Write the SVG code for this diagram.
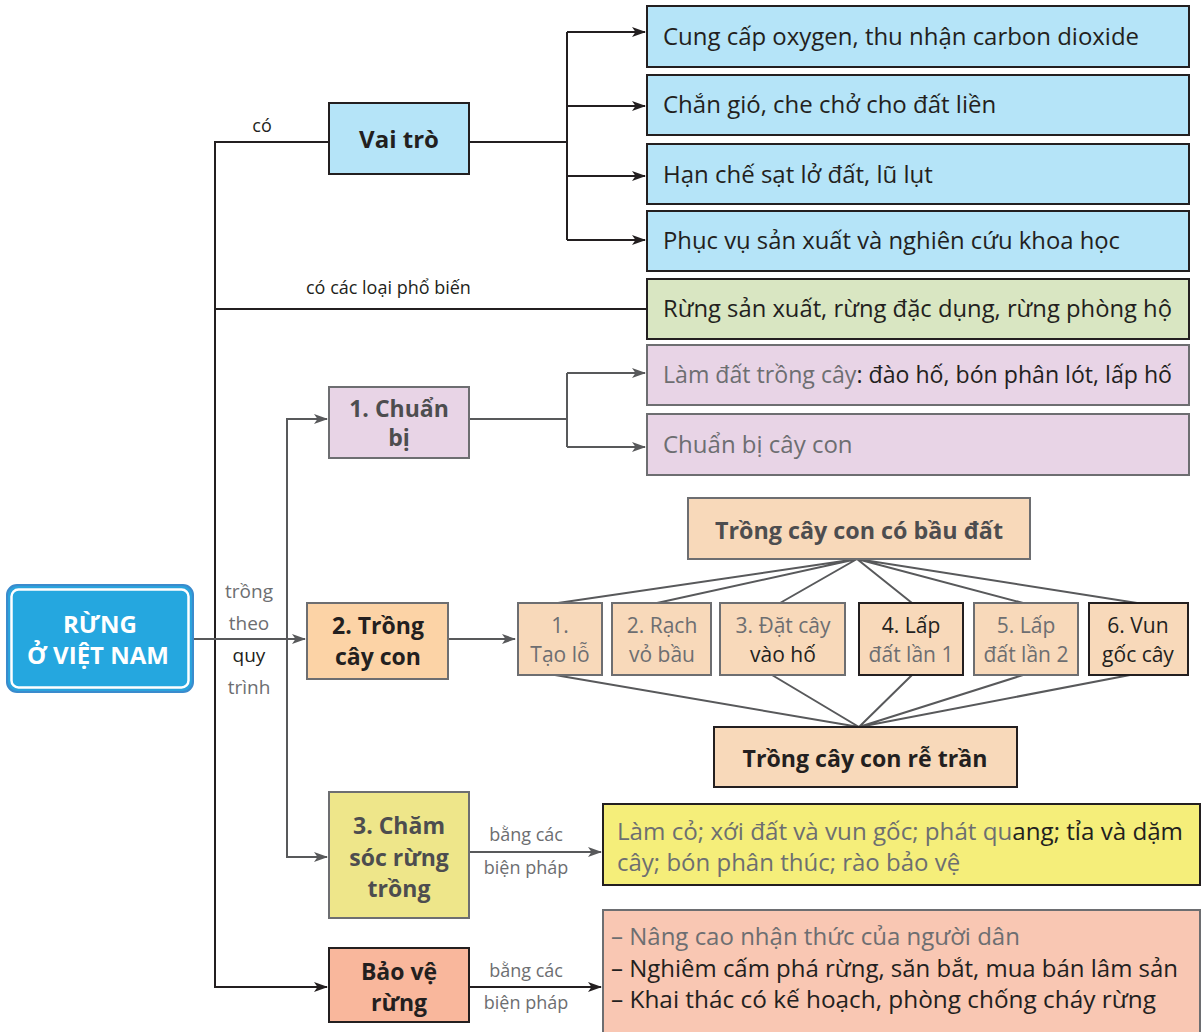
<svg xmlns="http://www.w3.org/2000/svg" width="1202" height="1032" viewBox="0 0 1202 1032">
<defs>
<marker id="ah" markerWidth="14" markerHeight="12" refX="13" refY="6" orient="auto" markerUnits="userSpaceOnUse">
<path d="M0,1 L14,6 L0,11 L3.5,6 z" fill="#231f20"/>
</marker>
<marker id="ahg" markerWidth="14" markerHeight="12" refX="13" refY="6" orient="auto" markerUnits="userSpaceOnUse">
<path d="M0,1 L14,6 L0,11 L3.5,6 z" fill="#58595b"/>
</marker>
</defs>
<style>
text{font-family:"Open Sans","Noto Sans","DejaVu Sans",sans-serif;fill:#231f20}
.b{font-weight:700}
.c{text-anchor:middle}
.t24{font-size:24px}
.t23{font-size:23px}
.t21{font-size:21px}
.t19{font-size:19px}
.t18{font-size:18px}
.g{fill:#6d6e71}
.dg{fill:#4d4d4f}
.bx{stroke:#231f20;stroke-width:2}
.bg{stroke:#6d6e71;stroke-width:2}
.blue{fill:#b5e4f8}
.green{fill:#d9e6c2}
.purple{fill:#e8d4e6}
.peach{fill:#f8d9ba}
.orange{fill:#fcd3a6}
.yel1{fill:#eee68a}
.yel2{fill:#f5ee7a}
.sal1{fill:#f9b79c}
.sal2{fill:#f9c7b3}
.ln{fill:none;stroke:#231f20;stroke-width:2}
.lg{fill:none;stroke:#58595b;stroke-width:2}
</style>
<rect width="1202" height="1032" fill="#ffffff"/>

<g id="connectors">
<path class="ln" d="M329,142 H215 V987 H327" marker-end="url(#ah)"/>
<path class="ln" d="M215,309 H647"/>
<path class="ln" d="M469,142 H567 M567,32 V240"/>
<path class="ln" d="M567,32 H645" marker-end="url(#ah)"/>
<path class="ln" d="M567,106 H645" marker-end="url(#ah)"/>
<path class="ln" d="M567,176 H645" marker-end="url(#ah)"/>
<path class="ln" d="M567,240 H645" marker-end="url(#ah)"/>
<path class="lg" d="M327,419 H287 V857 H327" marker-end="url(#ahg)"/>
<path class="lg" d="M287,419 H327" marker-end="url(#ahg)"/>
<path class="lg" d="M194,639 H305" marker-end="url(#ahg)"/>
<path class="lg" d="M469,419 H567 M567,373 V447"/>
<path class="lg" d="M567,373 H645" marker-end="url(#ahg)"/>
<path class="lg" d="M567,447 H645" marker-end="url(#ahg)"/>
<path class="lg" d="M448,639 H515" marker-end="url(#ahg)"/>
<path class="lg" d="M857,559 L558,603 M857,559 L657,603 M857,559 L780,603 M857,559 L912,603 M857,559 L1023,603 M857,559 L1137,603"/>
<path class="lg" d="M859,727 L555,675 M859,727 L772,675 M859,727 L912,675 M859,727 L1023,675 M859,727 L1130,675"/>
<path class="lg" d="M469,852 H601" marker-end="url(#ahg)"/>
<path class="ln" d="M469,987 H601" marker-end="url(#ah)"/>
</g>

<g id="labels">
<text class="t18 c" x="262" y="132">có</text>
<text class="t18" x="306" y="294">có các loại phổ biến</text>
<text class="t19 c g" x="249" y="598">trồng</text>
<text class="t19 c g" x="249" y="630">theo</text>
<text class="t19 c" x="249" y="662">quy</text>
<text class="t19 c g" x="249" y="694">trình</text>
<text class="t18 c g" x="526" y="841">bằng các</text>
<text class="t18 c g" x="526" y="874">biện pháp</text>
<text class="t18 c g" x="526" y="977">bằng các</text>
<text class="t18 c g" x="526" y="1009">biện pháp</text>
</g>

<g id="main">
<rect x="7" y="585" width="186" height="107" rx="10" fill="#2aa3dc" stroke="#3a8bcd" stroke-width="2"/>
<rect x="11.5" y="589.5" width="177" height="98" rx="7" fill="#25a7df" stroke="#ffffff" stroke-width="2.5"/>
<text class="b t24 c" x="100" y="633" style="fill:#ffffff">RỪNG</text>
<text class="b t24 c" x="98" y="664" style="fill:#ffffff">Ở VIỆT NAM</text>
</g>

<g id="vaitro">
<rect class="blue bx" x="329" y="103" width="140" height="71"/>
<text class="b t24 c" x="399" y="148">Vai trò</text>
</g>
<g id="vt1">
<rect class="blue bx" x="647" y="6" width="542" height="61"/>
<text class="t24" x="663" y="45" textLength="476" lengthAdjust="spacingAndGlyphs">Cung cấp oxygen, thu nhận carbon dioxide</text>
</g>
<g id="vt2">
<rect class="blue bx" x="647" y="75" width="542" height="60"/>
<text class="t24" x="663" y="113">Chắn gió, che chở cho đất liền</text>
</g>
<g id="vt3">
<rect class="blue bx" x="647" y="144" width="542" height="60"/>
<text class="t24" x="663" y="183">Hạn chế sạt lở đất, lũ lụt</text>
</g>
<g id="vt4">
<rect class="blue bx" x="647" y="211" width="542" height="60"/>
<text class="t24" x="663" y="249" textLength="457" lengthAdjust="spacingAndGlyphs">Phục vụ sản xuất và nghiên cứu khoa học</text>
</g>
<g id="loai">
<rect class="green bx" x="647" y="279" width="542" height="60"/>
<text class="t24" x="663" y="317" textLength="509" lengthAdjust="spacingAndGlyphs">Rừng sản xuất, rừng đặc dụng, rừng phòng hộ</text>
</g>

<g id="chuanbi">
<rect class="purple bg" x="329" y="387" width="140" height="71"/>
<text class="b t23 c dg" x="399" y="417">1. Chuẩn</text>
<text class="b t23 c dg" x="399" y="446">bị</text>
</g>
<g id="cb1">
<rect class="purple bg" x="647" y="345" width="542" height="60"/>
<text class="t24" x="663" y="383" textLength="509" lengthAdjust="spacingAndGlyphs"><tspan class="g">Làm đất trồng cây</tspan>: đào hố, bón phân lót, lấp hố</text>
</g>
<g id="cb2">
<rect class="purple bg" x="647" y="414" width="542" height="61"/>
<text class="t24 g" x="663" y="453">Chuẩn bị cây con</text>
</g>

<g id="trong">
<rect class="orange bg" x="307" y="603" width="141" height="76"/>
<text class="b t23 c" x="378" y="634">2. Trồng</text>
<text class="b t23 c" x="378" y="665">cây con</text>
</g>
<g id="baudat">
<rect class="peach bg" x="688" y="498" width="342" height="61"/>
<text class="b t24 c dg" x="859" y="539" textLength="288" lengthAdjust="spacingAndGlyphs">Trồng cây con có bầu đất</text>
</g>
<g id="s1">
<rect class="peach bg" x="518" y="603" width="84" height="72"/>
<text class="t21 c g" x="560" y="633">1.</text>
<text class="t21 c g" x="560" y="662">Tạo lỗ</text>
</g>
<g id="s2">
<rect class="peach bg" x="612" y="603" width="99" height="72"/>
<text class="t21 c g" x="662" y="633">2. Rạch</text>
<text class="t21 c g" x="662" y="662">vỏ bầu</text>
</g>
<g id="s3">
<rect class="peach bg" x="720" y="603" width="125" height="72"/>
<text class="t21 c g" x="783" y="633">3. Đặt cây</text>
<text class="t21 c" x="783" y="662">vào hố</text>
</g>
<g id="s4">
<rect class="peach bx" x="859" y="603" width="104" height="72"/>
<text class="t21 c" x="911" y="633">4. Lấp</text>
<text class="t21 c g" x="911" y="662">đất lần 1</text>
</g>
<g id="s5">
<rect class="peach bg" x="974" y="603" width="104" height="72"/>
<text class="t21 c g" x="1026" y="633">5. Lấp</text>
<text class="t21 c g" x="1026" y="662">đất lần 2</text>
</g>
<g id="s6">
<rect class="peach bx" x="1089" y="603" width="99" height="72"/>
<text class="t21 c" x="1138" y="633">6. Vun</text>
<text class="t21 c" x="1138" y="662">gốc cây</text>
</g>
<g id="retran">
<rect class="peach bx" x="714" y="727" width="303" height="60"/>
<text class="b t24 c" x="865" y="767" textLength="245" lengthAdjust="spacingAndGlyphs">Trồng cây con rễ trần</text>
</g>

<g id="chamsoc">
<rect class="yel1 bg" x="329" y="792" width="140" height="126"/>
<text class="b t23 c dg" x="399" y="834">3. Chăm</text>
<text class="b t23 c dg" x="399" y="866">sóc rừng</text>
<text class="b t23 c dg" x="399" y="897">trồng</text>
</g>
<g id="cs1">
<rect class="yel2 bx" x="603" y="804" width="597" height="81"/>
<text class="t24" x="617" y="840" textLength="566" lengthAdjust="spacingAndGlyphs"><tspan class="g">Làm cỏ; xới đất và vun gốc; phát qu</tspan>ang; tỉa và dặm</text>
<text class="t24 g" x="617" y="871">cây; bón phân thúc; rào bảo vệ</text>
</g>

<g id="baove">
<rect class="sal1 bx" x="329" y="948" width="140" height="74"/>
<text class="b t23 c" x="399" y="980">Bảo vệ</text>
<text class="b t23 c" x="399" y="1011">rừng</text>
</g>
<g id="bv1">
<rect class="sal2 bg" x="603" y="910" width="597" height="124"/>
<text class="t24 g" x="611" y="945">– Nâng cao nhận thức của người dân</text>
<text class="t24" x="611" y="977" textLength="567" lengthAdjust="spacingAndGlyphs">– Nghiêm cấm phá rừng, săn bắt, mua bán lâm sản</text>
<text class="t24" x="611" y="1008" textLength="545" lengthAdjust="spacingAndGlyphs">– Khai thác có kế hoạch, phòng chống cháy rừng</text>
</g>
</svg>
